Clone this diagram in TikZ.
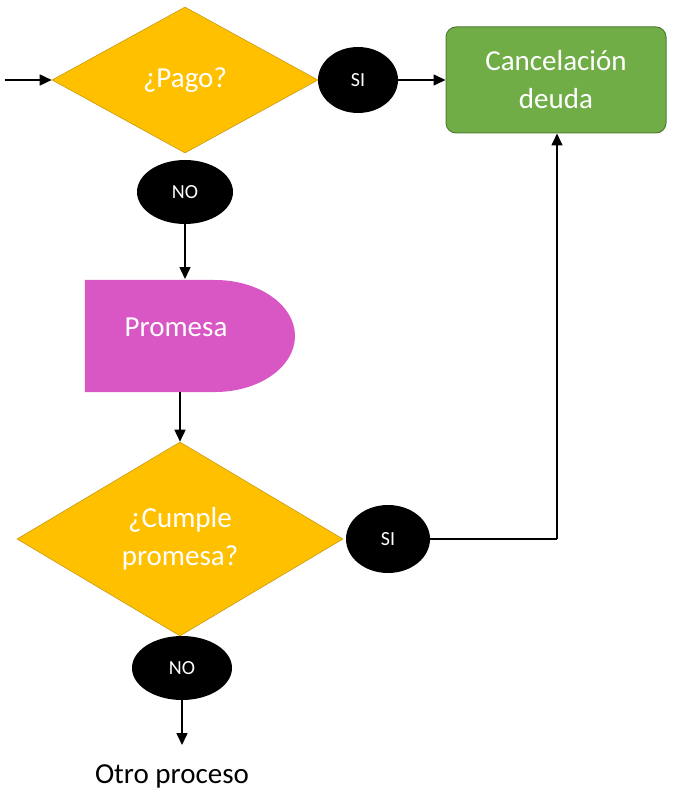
\documentclass[tikz,border=0pt]{standalone}
\usepackage{fontspec}
\setmainfont{Carlito}
\usetikzlibrary{shapes.geometric,arrows.meta}
\definecolor{dyellow}{HTML}{FFC000}
\definecolor{dyellowb}{HTML}{C99A10}
\definecolor{dgreen}{HTML}{70AD47}
\definecolor{dgreenb}{HTML}{507E32}
\definecolor{dmag}{HTML}{D957C4}
\begin{document}
\begin{tikzpicture}[x=1pt,y=-1pt,
  bigtext/.style={font=\fontsize{29}{38}\selectfont},
  decision/.style={diamond,fill=dyellow,draw=dyellowb,line width=0.6pt,inner sep=0pt,text=white,bigtext,align=center},
  answer/.style={ellipse,fill=black,inner sep=0pt,text=white,font=\fontsize{20}{22}\selectfont},
  process/.style={rectangle,rounded corners=10pt,fill=dgreen,draw=dgreenb,line width=1pt,text=white,bigtext,align=center},
  conn/.style={line width=1.6pt,-{Triangle[length=12pt,width=11pt]}},
  plain/.style={line width=1.6pt}]
\useasboundingbox (0,0) rectangle (678,794);
% nodes
\node[decision,minimum width=266pt,minimum height=146pt,aspect=1.82] (pago) at (185,80) {¿Pago?};
\node[answer,minimum width=80pt,minimum height=66pt] (si1) at (358,80) {SI};
\node[process,minimum width=220pt,minimum height=106pt] (cancel) at (556,80) {Cancelación\\deuda};
\node[answer,minimum width=96pt,minimum height=64pt] (no1) at (185,192) {NO};
\coordinate (start) at (5,80);
% Promesa delay shape
\node[minimum width=210pt,minimum height=112pt,inner sep=0pt] (prom) at (190,336) {};
\fill[dmag] (prom.north west) -- (215,280) arc[start angle=90,end angle=-90,x radius=80pt,y radius=56pt] -- (prom.south west) -- cycle;
\node[text=white,bigtext] at (176,327) {Promesa};
\node[decision,minimum width=326pt,minimum height=194pt,aspect=1.68] (cumple) at (180,539) {¿Cumple\\promesa?};
\node[answer,minimum width=84pt,minimum height=68pt] (si2) at (388,539) {SI};
\node[answer,minimum width=100pt,minimum height=64pt] (no2) at (182,668) {NO};
\node[bigtext] (otro) at (172,776) {Otro proceso};
\coordinate (corner) at (557,539);
% connectors
\draw[conn] (start) -- (pago.west);
\draw[conn] (si1.east) -- (cancel.west);
\draw[conn] (no1.south) -- (185,279);
\draw[conn] (180,392) -- (cumple.north);
\draw[plain] (si2.east) -- (corner);
\draw[conn] (corner) -- (cancel.south -| corner);
\draw[conn] (no2.south) -- (182,745);
\end{tikzpicture}
\end{document}
